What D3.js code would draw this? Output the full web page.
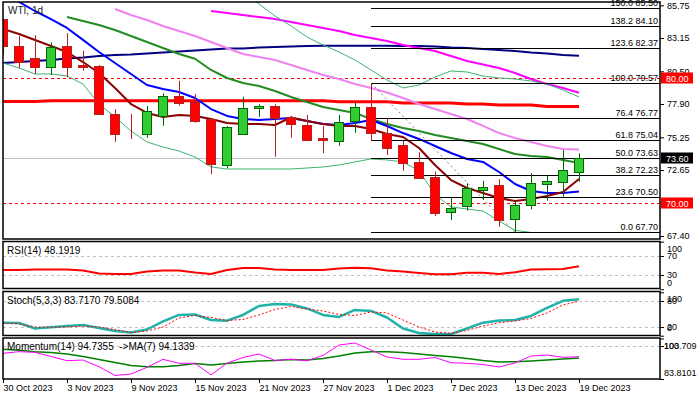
<!DOCTYPE html>
<html>
<head>
<meta charset="utf-8">
<script src="https://cdn.jsdelivr.net/npm/d3@7"></script>
<style>
  body { margin: 0; background: #fff; }
  svg text { font-family: "Liberation Sans", Arial, sans-serif; }
</style>
</head>
<body>
<svg id="chart" width="697" height="397"></svg>
<script>
var dates = ['2023-10-30','2023-10-31','2023-11-01','2023-11-02','2023-11-03','2023-11-06','2023-11-07','2023-11-08','2023-11-09','2023-11-10',
  '2023-11-13','2023-11-14','2023-11-15','2023-11-16','2023-11-17','2023-11-20','2023-11-21','2023-11-22','2023-11-23','2023-11-24',
  '2023-11-27','2023-11-28','2023-11-29','2023-11-30','2023-12-01','2023-12-04','2023-12-05','2023-12-06','2023-12-07','2023-12-08',
  '2023-12-11','2023-12-12','2023-12-13','2023-12-14','2023-12-15','2023-12-18','2023-12-19'];
var xTicks = ['2023-10-30','2023-11-03','2023-11-09','2023-11-15','2023-11-21','2023-11-27','2023-12-01','2023-12-07','2023-12-13','2023-12-19'];

var opens  = [84.64,82.52,81.54,80.82,82.52,81.00,80.92,77.08,75.58,75.49,76.95,78.54,78.08,76.68,73.05,75.49,77.56,77.74,76.89,76.23,
  75.17,74.98,76.49,77.64,75.57,74.64,73.29,72.07,69.29,69.73,71.06,71.46,68.73,69.87,71.59,71.67,72.47];
var highs  = [84.70,83.31,83.39,82.81,83.53,82.14,81.00,77.48,77.11,77.74,78.75,79.75,78.70,76.76,76.15,78.48,77.88,77.88,76.95,77.03,
  76.15,77.03,78.00,79.57,76.76,74.98,74.06,72.52,70.48,71.59,71.80,71.91,70.13,72.39,72.17,74.24,73.98];
var lows   = [81.80,80.74,80.29,80.21,80.03,80.55,77.05,74.90,75.12,75.22,76.17,77.77,76.41,72.31,72.79,75.45,76.89,73.71,75.22,74.98,
  73.98,74.58,75.62,74.98,73.84,72.59,71.95,68.99,68.67,69.41,70.26,68.14,67.70,69.52,70.21,70.53,71.72];
var closes = [82.46,81.27,80.82,82.41,80.82,80.87,77.08,75.49,75.56,77.34,78.54,78.00,76.57,73.10,76.05,77.56,77.74,76.76,76.37,75.04,
  74.98,76.49,77.64,75.57,74.38,73.23,71.99,69.21,69.60,71.19,71.32,68.67,69.87,71.59,71.80,72.65,73.60];

// moving averages / bands on the price chart
var maDarkRed = [83.87,83.47,82.99,82.52,82.04,81.24,80.37,79.17,77.90,77.19,76.87,77.03,76.95,76.71,76.39,76.31,76.31,76.23,76.83,76.55,
  76.31,76.15,76.15,75.91,75.51,75.28,74.40,73.05,71.85,71.22,70.82,70.42,70.18,70.34,70.58,70.90,71.93];
var maBlue = [86.57,86.02,85.30,84.66,83.95,83.00,82.04,81.16,80.29,79.41,79.09,78.86,78.38,77.50,76.95,76.71,76.63,76.71,76.79,76.55,
  76.31,76.23,76.39,76.63,76.15,75.59,75.12,74.56,74.00,73.53,73.29,72.49,71.54,70.98,70.82,70.82,70.94];
var maGreen = [null,null,null,null,84.82,84.50,84.19,83.79,83.31,82.83,82.36,81.88,81.50,80.61,79.97,79.57,79.33,78.94,78.46,78.06,
  77.66,77.42,77.19,76.71,76.31,75.99,75.75,75.44,75.20,74.96,74.72,74.32,73.92,73.76,73.68,73.45,73.21];
var maViolet = [null,null,null,null,null,null,null,85.46,84.98,84.58,84.11,83.71,83.31,82.83,82.36,81.88,81.64,81.40,81.00,80.61,
  80.21,79.89,79.49,79.17,78.82,78.38,77.90,77.50,77.11,76.71,76.16,75.59,75.20,74.88,74.56,74.32,74.28];
var maMagenta = [null,null,null,null,null,null,null,null,null,null,null,null,null,85.30,85.14,84.98,84.82,84.66,84.42,84.19,
  83.95,83.71,83.39,83.15,82.91,82.60,82.36,82.12,81.72,81.32,81.04,80.77,80.37,79.89,79.49,79.17,78.80];
var maNavy = [81.16,81.24,81.32,81.40,81.52,81.60,81.72,81.80,81.84,81.92,82.00,82.08,82.16,82.24,82.32,82.32,82.40,82.44,82.48,82.52,
  82.54,82.54,82.54,82.54,82.54,82.52,82.52,82.48,82.40,82.36,82.28,82.20,82.12,82.00,81.92,81.80,81.74];
var maRed = [78.10,78.10,78.10,78.16,78.16,78.16,78.16,78.16,78.16,78.16,78.16,78.16,78.16,78.16,78.16,78.16,78.16,78.16,78.16,78.16,
  78.16,78.08,78.08,78.08,78.08,77.98,77.98,77.98,77.98,77.90,77.90,77.82,77.82,77.82,77.70,77.70,77.70];
var bandUpper = [null,null,null,null,null,null,null,null,null,null,null,null,null,null,null,86.80,85.86,84.90,84.11,83.23,
  82.60,82.04,81.40,80.61,79.81,79.18,79.41,80.05,80.53,80.45,80.13,79.97,79.89,79.73,79.49,79.01,78.46];
var bandLower = [81.16,80.77,80.29,80.29,80.13,79.49,77.90,76.87,75.75,74.88,74.48,74.16,73.68,72.90,72.73,72.73,72.73,72.73,72.73,72.81,
  72.89,73.05,73.29,73.53,73.45,73.29,72.60,70.70,69.71,69.55,69.39,68.60,67.85,67.68,67.68,67.68,67.68];

var fibPct   = ['0.0','23.6','38.2','50.0','61.8','76.4','100.0','123.6','138.2','150.0'];
var fibPrice = [67.70,70.50,72.23,73.63,75.04,76.77,79.57,82.37,84.10,85.50];
var fibFrom = 23, fibTo = 32;   // swing high bar / swing low bar

var alertLevels = [80.00, 70.00];
var priceTicks = [67.40,70.05,72.65,75.25,77.90,80.50,83.15,85.75];

var rsi = [40.5,40.5,41.6,41.6,41.6,39.5,33.2,32.1,32.1,37.4,39.5,39.5,35.3,32.1,40.5,44.7,44.7,41.6,40.5,40.5,
  40.5,43.7,45.4,44.1,39.5,37.4,34.2,31.5,31.5,34.9,34.9,32.1,35.7,41.6,42.0,42.6,48.1919];
var stochK = [30.0,29.3,16.6,19.4,22.4,24.7,17.8,10.8,7.4,14.3,32.8,47.8,48.9,36.2,34.6,47.8,68.5,73.2,72.0,62.8,
  47.8,43.2,59.3,57.0,42.0,16.6,6.2,3.9,3.9,16.6,30.0,35.1,36.2,45.5,63.9,80.3,83.7170];
var stochD = [29.3,27.0,20.1,19.4,20.1,22.4,20.1,14.3,7.4,10.8,20.1,40.8,46.6,42.0,35.1,37.4,47.8,60.5,67.4,61.6,
  57.0,48.9,46.6,54.7,52.4,36.2,20.1,8.5,5.5,12.0,22.4,30.0,33.9,39.7,52.4,70.9,79.5084];
var momentum = [96.44,97.22,96.93,94.86,92.80,93.14,89.85,85.53,86.26,89.56,93.49,91.52,91.52,85.80,91.60,94.37,96.09,92.90,93.49,92.80,
  95.35,100.51,101.50,98.06,94.62,93.49,93.49,94.37,91.82,91.52,90.93,89.71,91.67,95.11,95.60,94.47,94.7355];
var momentumMa = [98.40,97.91,97.22,96.83,96.09,94.86,93.39,91.92,90.44,89.85,89.85,90.44,91.42,90.69,91.42,92.16,92.65,92.90,93.39,93.14,
  93.88,95.11,96.58,97.22,97.22,96.83,96.09,95.35,94.77,93.88,92.90,92.16,92.31,92.65,93.14,93.63,94.1339];
var momTop = 103.709, momBottom = 83.8101;

var svg = d3.select("#chart");
var plotLeft = 3, plotRight = 660;
var panels = {
  main:  {top: 2,     bottom: 239},
  rsi:   {top: 241.5, bottom: 288.5},
  stoch: {top: 291.5, bottom: 335.5},
  mom:   {top: 338,   bottom: 379}
};

var parse = d3.timeParse('%Y-%m-%d');
var fmt = d3.timeFormat('%-d %b %Y');

var x = d3.scalePoint().domain(dates).range([3, 579]);
var yMain = d3.scaleLinear().domain([67.40, 85.75]).range([236, 5.34]);
var yRsi = d3.scaleLinear().domain([0, 100]).range([289.3, 241.7]);
var yStoch = d3.scaleLinear().domain([0, 100]).range([335.7, 292.3]);
var yMom = d3.scaleLinear().domain([momBottom, momTop]).range([379, 338.5]);

var defs = svg.append('defs');
function panelGroup(name) {
  var p = panels[name];
  defs.append('clipPath').attr('id', 'clip-' + name)
    .append('rect')
    .attr('x', plotLeft).attr('y', p.top)
    .attr('width', plotRight - plotLeft).attr('height', p.bottom - p.top);
  return svg.append('g').attr('clip-path', 'url(#clip-' + name + ')');
}

function drawSeries(g, values, y, color, width, dash) {
  var line = d3.line()
    .defined(function(d) { return d != null; })
    .x(function(d, i) { return x(dates[i]); })
    .y(function(d) { return y(d); });
  return g.append('path')
    .datum(values)
    .attr('d', line)
    .attr('fill', 'none')
    .attr('stroke', color)
    .attr('stroke-width', width)
    .attr('stroke-linejoin', 'round')
    .attr('stroke-dasharray', dash || null);
}

function hLine(g, yv, color, dash, x1) {
  return g.append('line')
    .attr('x1', x1 || plotLeft).attr('x2', plotRight)
    .attr('y1', Math.round(yv) + 0.5).attr('y2', Math.round(yv) + 0.5)
    .attr('stroke', color).attr('stroke-width', 1)
    .attr('stroke-dasharray', dash || null);
}

function rightAxis(y, values, labels, shiftTop, shiftBottom, textX) {
  var axis = d3.axisRight(y).tickValues(values).tickSize(4).tickPadding(3)
    .tickFormat(function(d, i) { return labels[i]; });
  var g = svg.append('g').attr('transform', 'translate(' + plotRight + ',0)').call(axis);
  g.select('.domain').remove();
  g.attr('font-size', 9).attr('font-family', null);
  g.selectAll('text').attr('fill', '#000');
  if (textX) g.selectAll('text').attr('x', textX);
  g.selectAll('line').attr('stroke', '#000');
  if (shiftTop || shiftBottom) {
    var top = d3.max(values), bottom = d3.min(values);
    g.selectAll('.tick text').attr('y', function(d) {
      if (d === top) return shiftTop;
      if (d === bottom) return shiftBottom;
      return 0;
    });
  }
  return g;
}

// ---- main price panel
var gMain = panelGroup('main');
var last = closes.length - 1;

hLine(gMain, yMain(closes[last]), '#c0c0c0');
alertLevels.forEach(function(v) { hLine(gMain, yMain(v), '#ff0000', '3,3'); });

drawSeries(gMain, maRed, yMain, '#ff0000', 3);
drawSeries(gMain, maNavy, yMain, '#000080', 2);
drawSeries(gMain, maMagenta, yMain, '#ff00ff', 2);
drawSeries(gMain, maViolet, yMain, '#ee82ee', 2);
drawSeries(gMain, bandUpper, yMain, '#3cb371', 1);
drawSeries(gMain, bandLower, yMain, '#3cb371', 1);
drawSeries(gMain, maGreen, yMain, '#228b22', 2);
drawSeries(gMain, maBlue, yMain, '#0000ff', 2);
drawSeries(gMain, maDarkRed, yMain, '#8b0000', 2);

// fibonacci levels
var fibX = Math.round(x(dates[fibFrom]));
fibPrice.forEach(function(p, i) {
  hLine(gMain, yMain(p), '#000', null, fibX);
});
gMain.append('line')
  .attr('x1', x(dates[fibFrom])).attr('y1', yMain(highs[fibFrom]))
  .attr('x2', x(dates[fibTo])).attr('y2', yMain(lows[fibTo]))
  .attr('stroke', '#808080').attr('stroke-width', 1).attr('stroke-dasharray', '2,3');

// candles
var candle = gMain.selectAll('.candle').data(dates).enter().append('g').attr('class', 'candle');
candle.append('line')
  .attr('x1', function(d) { return x(d) + 0.5; })
  .attr('x2', function(d) { return x(d) + 0.5; })
  .attr('y1', function(d, i) { return yMain(highs[i]); })
  .attr('y2', function(d, i) { return yMain(lows[i]); })
  .attr('stroke', function(d, i) { return closes[i] >= opens[i] ? '#006400' : '#b22222'; })
  .attr('stroke-width', 1);
candle.append('rect')
  .attr('x', function(d) { return x(d) - 4.5; })
  .attr('width', 9)
  .attr('y', function(d, i) { return Math.round(yMain(Math.max(opens[i], closes[i]))) + 0.5; })
  .attr('height', function(d, i) { return Math.max(0, Math.round(Math.abs(yMain(opens[i]) - yMain(closes[i])))); })
  .attr('fill', function(d, i) { return closes[i] >= opens[i] ? '#32cd32' : '#ff0000'; })
  .attr('stroke', function(d, i) { return closes[i] >= opens[i] ? '#006400' : '#b22222'; })
  .attr('stroke-width', 1);

svg.selectAll('.fib-label').data(fibPrice).enter().append('text')
  .attr('class', 'fib-label')
  .attr('x', plotRight - 2)
  .attr('y', function(p) { return Math.round(yMain(p)) - 2; })
  .attr('text-anchor', 'end')
  .attr('font-size', 9)
  .text(function(p, i) { return fibPct[i] + ' ' + p.toFixed(2); });

svg.append('text').attr('x', 8).attr('y', 14).attr('font-size', 10).attr('fill', '#222').text('WTI, 1d');

// ---- RSI
var gRsi = panelGroup('rsi');
[70, 30].forEach(function(v) { hLine(gRsi, yRsi(v), '#c0c0c0', '3,3'); });
drawSeries(gRsi, rsi, yRsi, '#ff0000', 2);
svg.append('text').attr('x', 7).attr('y', 254).attr('font-size', 10)
  .text('RSI(14) ' + rsi[last].toFixed(4));

// ---- Stochastic
var gStoch = panelGroup('stoch');
[80, 20].forEach(function(v) { hLine(gStoch, yStoch(v), '#c0c0c0', '3,3'); });
drawSeries(gStoch, stochK, yStoch, '#20b2aa', 2.5);
drawSeries(gStoch, stochD, yStoch, '#ff0000', 1, '2,2');
svg.append('text').attr('x', 7).attr('y', 304).attr('font-size', 10)
  .text('Stoch(5,3,3) ' + stochK[last].toFixed(4) + ' ' + stochD[last].toFixed(4));

// ---- Momentum
var gMom = panelGroup('mom');
hLine(gMom, yMom(100), '#c0c0c0', '3,3');
drawSeries(gMom, momentumMa, yMom, '#008000', 1.5);
drawSeries(gMom, momentum, yMom, '#ff00ff', 1);
svg.append('text').attr('x', 7).attr('y', 350).attr('font-size', 10)
  .attr('xml:space', 'preserve').style('white-space', 'pre')
  .text('Momentum(14) ' + momentum[last].toFixed(4) + '  ->MA(7) ' + momentumMa[last].toFixed(4));

// ---- frames
Object.keys(panels).forEach(function(k) {
  var p = panels[k];
  svg.append('rect')
    .attr('x', plotLeft).attr('y', p.top)
    .attr('width', plotRight - plotLeft).attr('height', p.bottom - p.top)
    .attr('fill', 'none').attr('stroke', '#000').attr('stroke-width', 1.5);
});

// ---- axes
rightAxis(yMain, priceTicks, priceTicks.map(function(v) { return v.toFixed(2); }));
rightAxis(yRsi, [100, 70, 30, 0], ['100', '70', '30', '0'], 6.5, -7);
rightAxis(yStoch, [100, 80, 20, 0], ['100', '80', '20', '0'], 6, -8);
rightAxis(yMom, [momTop, 100, momBottom], [String(momTop), '100', String(momBottom)], 7.5, -6.5, 4);

var xAxis = d3.axisBottom(x).tickValues(xTicks).tickSize(4).tickPadding(2)
  .tickFormat(function(d) { return fmt(parse(d)); });
var gx = svg.append('g').attr('transform', 'translate(0,' + panels.mom.bottom + ')').call(xAxis);
gx.select('.domain').remove();
gx.attr('font-size', 9).attr('font-family', null);
gx.selectAll('text').attr('text-anchor', 'start').attr('x', 0).attr('fill', '#000');
gx.selectAll('line').attr('stroke', '#000');

// price tags on the right axis
function priceTag(v, color) {
  var yv = Math.round(yMain(v));
  svg.append('rect').attr('x', 661).attr('y', yv - 5.5).attr('width', 32).attr('height', 11).attr('fill', color);
  svg.append('text').attr('x', 666).attr('y', yv + 3.5).attr('font-size', 9).attr('fill', '#fff').text(v.toFixed(2));
}
alertLevels.forEach(function(v) { priceTag(v, '#ff0000'); });
priceTag(closes[last], '#000');
</script>
</body>
</html>
